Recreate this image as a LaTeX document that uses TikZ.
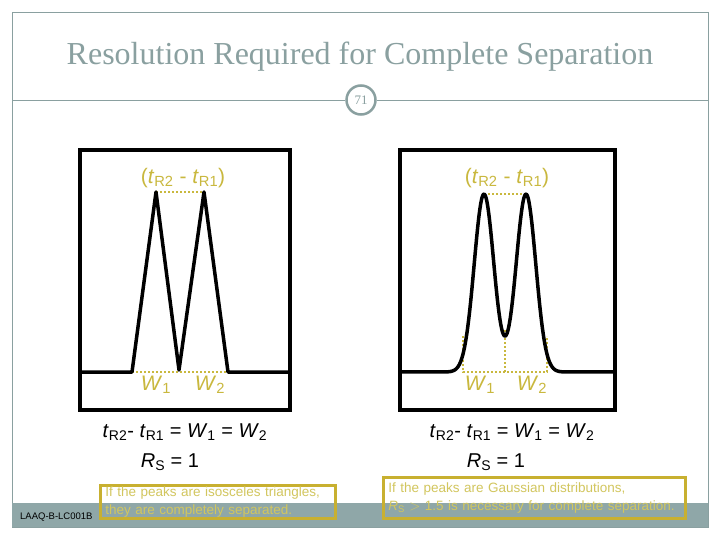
\documentclass[tikz,border=0pt]{standalone}
\usepackage{fontspec}
\setmainfont{Liberation Sans}
\newfontfamily\titlefont{Liberation Serif}
\begin{document}
\begin{tikzpicture}[x=1pt,y=-1pt,
  frame/.style={draw=black,line width=4pt},
  curve/.style={draw=black,line width=3.5pt,line join=round},
  gdot/.style={draw=gold,line width=2pt,dotted},
  glab/.style={text=gold,font=\fontsize{21}{24}\selectfont,inner sep=0pt},
  eqn/.style={font=\fontsize{20}{24}\selectfont,inner sep=0pt},
  note/.style={draw=goldb,line width=2.5pt,text=paleg,align=left,font=\fontsize{13.5}{18}\selectfont,inner sep=0pt}]
\definecolor{gold}{HTML}{C9B83E}
\definecolor{goldb}{HTML}{C8B030}
\definecolor{paleg}{HTML}{D2C65E}
\definecolor{slate}{HTML}{8AA0A0}
\definecolor{bar}{HTML}{8FA7A8}
\useasboundingbox (0,0) rectangle (720,540);
\fill[white] (0,0) rectangle (720,540);
% frame
\draw[slate,line width=0.8pt] (12,12) rectangle (708,527);
\fill[bar] (12,503) rectangle (708,527);
\node[font=\titlefont\fontsize{32}{36}\selectfont,text=slate] (title) at (360,57) {Resolution Required for Complete Separation};
\node[circle,draw=slate,line width=2.5pt,minimum size=29pt,inner sep=0pt,font=\titlefont\fontsize{13}{14}\selectfont,text=slate] (pg) at (361,100) {71};
\draw[slate,line width=0.8pt] (12,100) -- (pg.west);
\draw[slate,line width=0.8pt] (pg.east) -- (708,100);
\node[anchor=west,font=\fontsize{9.5}{11}\selectfont,inner sep=0pt] (code) at (20,517) {LAAQ-B-LC001B};
% left panel
\draw[frame] (80,150) rectangle (290,410);
\draw[gdot] (156,192) -- (204,192);
\draw[gdot] (132,372) -- (228,372);
\draw[curve] (80,372) -- (132,372) -- (156,192) -- (179,370) -- (204,192) -- (228,372) -- (290,372);
\node[glab] (lt) at (183,178) {(\textit{t}\textsubscript{R2} - \textit{t}\textsubscript{R1})};
\node[glab] (lw1) at (156,385) {\textit{W}\textsubscript{1}};
\node[glab] (lw2) at (210,385) {\textit{W}\textsubscript{2}};
\node[eqn] (le) at (185,432) {\textit{t}\textsubscript{R2}- \textit{t}\textsubscript{R1} = \textit{W}\textsubscript{1} = \textit{W}\textsubscript{2}};
\node[eqn] (lr) at (170,462) {\textit{R}\textsubscript{S} = 1};
\node[note,minimum width=235pt,minimum height=33pt,anchor=north west,text width=225pt,inner xsep=5pt] (ln) at (99,484) {If the peaks are isosceles triangles,\\ they are completely separated.};
% right panel
\draw[frame] (400,150) rectangle (615,410);
\draw[gdot] (484,194) -- (526,194);
\draw[gdot] (463,336) -- (463,372) -- (547,372) -- (547,336);
\draw[gdot] (505,330) -- (505,372);
\draw[curve] plot[domain=400:615,samples=200,smooth] (\x,{372-178*(exp(-((\x-484)/9.8)^2/2)+exp(-((\x-526)/9.8)^2/2))});
\node[glab] (rt) at (507,178) {(\textit{t}\textsubscript{R2} - \textit{t}\textsubscript{R1})};
\node[glab] (rw1) at (480,385) {\textit{W}\textsubscript{1}};
\node[glab] (rw2) at (532,385) {\textit{W}\textsubscript{2}};
\node[eqn] (re) at (512,432) {\textit{t}\textsubscript{R2}- \textit{t}\textsubscript{R1} = \textit{W}\textsubscript{1} = \textit{W}\textsubscript{2}};
\node[eqn] (rr) at (496,462) {\textit{R}\textsubscript{S} = 1};
\node[note,minimum width=302pt,minimum height=41pt,anchor=north west,text width=292pt,inner xsep=5pt] (rn) at (382,476) {If the peaks are Gaussian distributions,\\ \textit{R}\textsubscript{S} $>$ 1.5 is necessary for complete separation.};
\end{tikzpicture}
\end{document}
